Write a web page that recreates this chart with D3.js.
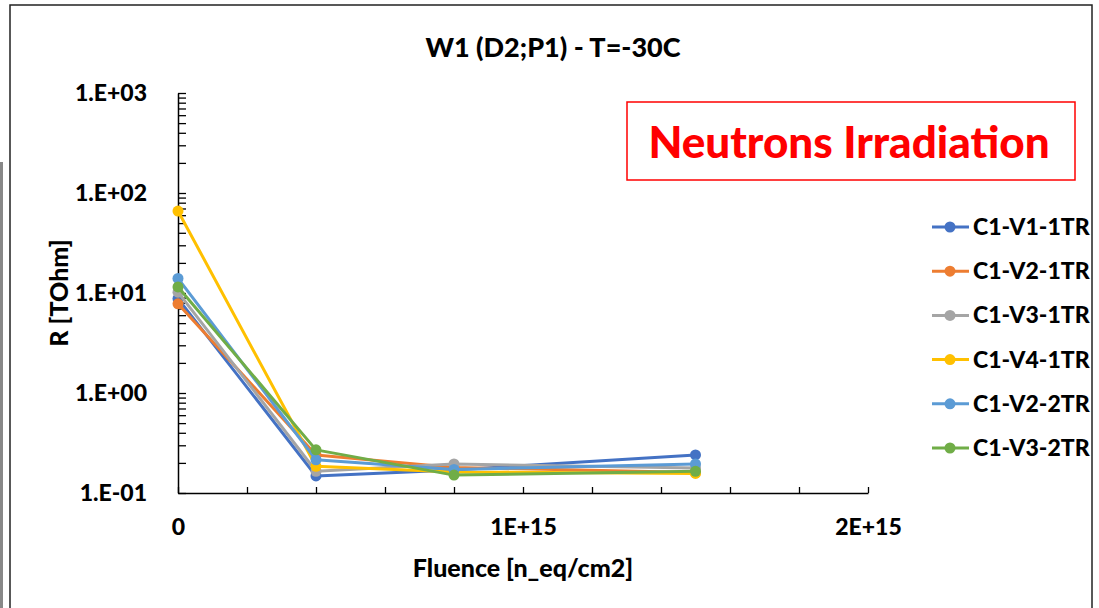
<!DOCTYPE html>
<html>
<head>
<meta charset="utf-8">
<script src="https://d3js.org/d3.v7.min.js"></script>
<style>
  body { margin: 0; background: #fff; }
  svg text { font-family: Lato, "Open Sans", sans-serif; font-weight: 900; }
</style>
</head>
<body>
<svg width="1099" height="608"></svg>
<script>
// fluence points (n_eq/cm2)
const fluence = [0, 4e14, 8e14, 1.5e15];
const seriesNames = ["C1-V1-1TR", "C1-V2-1TR", "C1-V3-1TR", "C1-V4-1TR", "C1-V2-2TR", "C1-V3-2TR"];
const v1_1tr = [8.8, 0.148, 0.17, 0.24];
const v2_1tr = [7.8, 0.24, 0.18, 0.16];
const v3_1tr = [10.2, 0.165, 0.195, 0.178];
const v4_1tr = [66, 0.185, 0.162, 0.157];
const v2_2tr = [14, 0.215, 0.172, 0.195];
const v3_2tr = [11.5, 0.27, 0.151, 0.165];
const colors = ["#4472C4", "#ED7D31", "#A5A5A5", "#FFC000", "#5B9BD5", "#70AD47"];
const yTickLabels = ["1.E-01", "1.E+00", "1.E+01", "1.E+02", "1.E+03"];
const xTickLabels = {0: "0", 1e15: "1E+15", 2e15: "2E+15"};

const allSeries = [v1_1tr, v2_1tr, v3_1tr, v4_1tr, v2_2tr, v3_2tr];

var svg = d3.select("svg");

// screenshot artefacts: grey bar at left, chart frame
svg.append("rect").attr("x", 0).attr("y", 162).attr("width", 3).attr("height", 446).attr("fill", "#888");
svg.append("rect").attr("x", 10).attr("y", 5).attr("width", 1082).attr("height", 620)
  .attr("fill", "none").attr("stroke", "#222").attr("stroke-width", 1.5);

var x = d3.scaleLinear().domain([0, 2e15]).range([178, 868]);
var y = d3.scaleLog().domain([0.1, 1000]).range([493, 93]);

// y axis with log minor ticks pointing inwards
var yTicks = [];
for (var e = -1; e < 3; e++) {
  for (var m = 1; m < 10; m++) yTicks.push(m * Math.pow(10, e));
}
yTicks.push(1000);
var yAxis = svg.append("g").attr("transform", "translate(178,0)")
  .call(d3.axisLeft(y).tickValues(yTicks).tickSizeInner(-8).tickSizeOuter(0).tickPadding(31)
    .tickFormat(function(d) {
      var p = Math.round(Math.log10(d));
      return Math.abs(d - Math.pow(10, p)) < 1e-9 ? yTickLabels[p + 1] : "";
    }));
yAxis.selectAll("text").attr("font-size", 23).attr("fill", "#000");
yAxis.selectAll("line").attr("stroke", "#000").attr("stroke-width", 1.3);
yAxis.select(".domain").attr("stroke", "#000").attr("stroke-width", 1.5);

var xAxis = svg.append("g").attr("transform", "translate(0,493)")
  .call(d3.axisBottom(x).tickValues(d3.range(0, 2.01e15, 2e14)).tickSizeInner(-6).tickSizeOuter(0).tickPadding(26)
    .tickFormat(function(d) { return xTickLabels[Math.round(d)] || ""; }));
xAxis.selectAll("text").attr("font-size", 23).attr("fill", "#000");
xAxis.selectAll("line").attr("stroke", "#000").attr("stroke-width", 1.3);
xAxis.select(".domain").attr("stroke", "#000").attr("stroke-width", 1.5);

// series
var line = d3.line().x(function(d, i) { return x(fluence[i]); }).y(function(d) { return y(d); });
allSeries.forEach(function(s, k) {
  svg.append("path").datum(s).attr("d", line).attr("fill", "none")
    .attr("stroke", colors[k]).attr("stroke-width", 3).attr("stroke-linejoin", "round");
  svg.selectAll(".pt" + k).data(s).enter().append("circle")
    .attr("cx", function(d, i) { return x(fluence[i]); })
    .attr("cy", function(d) { return y(d); })
    .attr("r", 5.5).attr("fill", colors[k]);
});

// titles
svg.append("text").attr("x", 553).attr("y", 57).attr("text-anchor", "middle")
  .attr("font-size", 27).text("W1 (D2;P1) - T=-30C");
svg.append("text").attr("transform", "translate(68,293) rotate(-90)").attr("text-anchor", "middle")
  .attr("font-size", 25).text("R [TOhm]");
svg.append("text").attr("x", 523).attr("y", 577).attr("text-anchor", "middle")
  .attr("font-size", 25).text("Fluence [n_eq/cm2]");

// annotation box
svg.append("rect").attr("x", 627).attr("y", 102).attr("width", 448).attr("height", 78)
  .attr("fill", "none").attr("stroke", "#FF0000").attr("stroke-width", 1.5);
svg.append("text").attr("x", 849).attr("y", 158).attr("text-anchor", "middle")
  .attr("font-size", 44).attr("fill", "#FF0000").text("Neutrons Irradiation");

// legend
var legend = svg.append("g");
seriesNames.forEach(function(name, k) {
  var ly = 227 + k * 44.2;
  legend.append("line").attr("x1", 932).attr("x2", 969).attr("y1", ly).attr("y2", ly)
    .attr("stroke", colors[k]).attr("stroke-width", 3);
  legend.append("circle").attr("cx", 950).attr("cy", ly).attr("r", 5.5).attr("fill", colors[k]);
  legend.append("text").attr("x", 973).attr("y", ly + 8).attr("font-size", 23).text(name);
});
</script>
</body>
</html>
